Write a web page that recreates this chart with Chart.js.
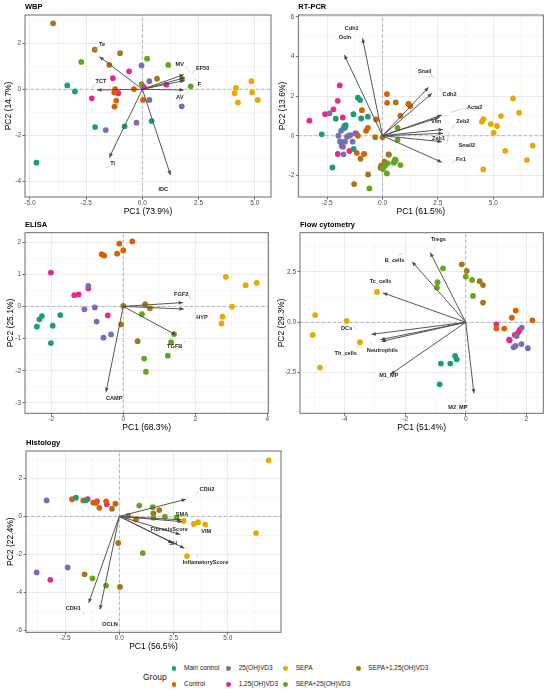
<!DOCTYPE html>
<html><head><meta charset="utf-8"><title>PCA biplots</title>
<script src="https://cdn.jsdelivr.net/npm/chart.js@4.4.1/dist/chart.umd.min.js"></script>
<style>
html,body{margin:0;padding:0;background:#fff;}
body{width:550px;height:693px;position:relative;overflow:hidden;font-family:"Liberation Sans",Arial,sans-serif;}
canvas{position:absolute;}
.lg{position:absolute;font-size:6.5px;color:#1a1a1a;white-space:nowrap;line-height:8px;}
.dot{position:absolute;width:4.8px;height:4.8px;border-radius:50%;}
</style></head><body>
<script>
// ---------------- DATA ----------------
const groups = ['Main control','Control','25(OH)VD3','1,25(OH)VD3','SEPA','SEPA+25(OH)VD3','SEPA+1,25(OH)VD3'];
const groupColors = ['#1B9E77','#D95F02','#7570B3','#E7298A','#E6AB02','#66A61E','#A6761D'];

// scores: [group index, PC1, PC2]
const wbpScores = [
 [0,-3.34,0.17],[0,-3.0,-0.09],[0,-4.71,-3.19],[0,-2.1,-1.64],[0,-0.79,-1.61],[0,0.41,-1.38],
 [1,-1.21,0.01],[1,-1.25,-0.14],[1,-1.16,-0.49],[1,-1.24,-0.75],[1,-0.37,0.01],[1,0.03,-0.46],
 [2,-0.04,1.04],[2,0.31,0.35],[2,0.31,-0.46],[2,1.75,-0.74],[2,-1.63,-1.77],[2,-0.26,-1.45],
 [3,-0.59,0.78],[3,-1.31,0.48],[3,-2.25,-0.39],[3,-1.07,-0.17],[3,0.07,0.09],[3,1.07,0.2],
 [4,4.85,0.35],[4,4.16,0.06],[4,4.1,-0.17],[4,4.88,-0.13],[4,5.13,-0.46],[4,4.25,-0.57],
 [5,-2.72,1.19],[5,0.21,1.33],[5,1.15,1.06],[5,1.76,0.45],[5,2.15,0.13],[5,-0.03,0.23],
 [6,-3.97,2.87],[6,-2.12,1.72],[6,-0.99,1.57],[6,-1.47,1.06],[6,0.65,0.46]
];
// loadings: [variable, tip PC1, tip PC2, label PC1, label PC2]
const wbpLoadings = [
 ['Te',-1.91,1.42,-1.79,1.93],['TCT',-2.01,-0.03,-1.84,0.33],['Ti',-1.47,-2.96,-1.32,-3.22],
 ['IDC',1.25,-3.72,0.93,-4.35],['MV',1.84,0.64,1.66,1.06],['EF50',1.88,0.5,2.68,0.91],
 ['F',1.88,0.38,2.54,0.22],['AV',1.84,-0.03,1.66,-0.36]
];
const wbpLeaders = [
 [-1.94,1.83,-2.13,1.71],[-2.1,0.23,-2.25,0.04],[-1.43,-3.32,-1.65,-3.43],[1.91,0.99,2.1,0.77],
 [2.35,0.84,2.21,0.67],[2.47,0.36,2.32,0.46],[1.88,-0.25,2.06,-0.06]
];
const wbpXTicks = [-5,-2.5,0,2.5,5];
const wbpYTicks = [-4,-2,0,2];

const pcrScores = [
 [4,5.89,1.88],[4,6.17,1.16],[4,5.35,0.99],[4,4.56,0.84],[4,4.49,0.71],[4,4.89,0.59],[4,5.17,0.49],[4,5.02,0.15],[4,6.78,-0.5],[4,5.54,-0.76],[4,6.52,-1.23],[4,4.55,-1.7],
 [1,0.2,2.1],[1,0.21,1.66],[1,1.17,1.6],[1,1.25,1.5],[1,0.81,1.01],[1,-0.29,0.82],[1,-0.93,1.29],[1,-0.66,0.4],[1,-0.74,0.25],[1,-1.11,0],[1,-1.16,-0.86],[1,-0.83,-0.92],
 [6,0.6,1.68],[6,-0.33,-0.07],[6,0,-0.08],[6,0.27,-0.94],[6,-0.99,-1.16],[6,0.09,-1.31],[6,-0.06,-1.51],[6,-0.09,-1.61],[6,-0.65,-1.95],[6,-1.28,-2.44],[6,0.29,-0.96],
 [5,0.68,0.4],[5,0.68,-0.22],[5,0.57,-1.19],[5,0.51,-1.36],[5,0.81,-1.48],[5,0.24,-1.39],[5,0.12,-1.51],[5,0.02,-1.68],[5,0.2,-1.9],[5,-0.59,-2.66],[5,0.54,-1.3],[5,0.6,-1.25],
 [0,-2.74,0.07],[0,-2.26,-1.6],[0,-2.11,0.86],[0,-1.72,0.49],[0,-1.66,0.54],[0,-1.69,0.42],[0,-1.31,1.09],[0,-1.11,1.92],[0,-1.01,1.8],[0,-0.96,0.87],[0,-0.66,0.96],[0,-1.3,-0.67],
 [3,-3.3,0.76],[3,-2.59,1.09],[3,-2.21,1.33],[3,-2.02,1.76],[3,-1.93,2.54],[3,-1.79,0.92],[3,-2.02,-0.92],[3,-1.79,-0.55],[3,-1.49,-0.77],[3,-1.23,0.12],[3,-1.51,0],[3,-1.9,-0.3],
 [2,-2.39,1.13],[2,-1.99,0],[2,-1.87,0.25],[2,-1.76,0.37],[2,-1.91,-0.3],[2,-1.84,-0.52],[2,-1.76,-0.94],[2,-1.46,0.03],[2,-1.19,0.12],[2,-1.69,-0.3],[2,-1.6,-0.05],[2,-1.35,-0.3]
];
const pcrLoadings = [
 ['Cdh1',-0.9,4.91,-1.39,5.41],['Ocln',-1.72,4.07,-1.69,4.94],['Snail',2.08,2.44,1.9,3.23],
 ['Cdh2',2.23,2.13,3.03,2.08],['Acta2',2.68,1.04,4.16,1.43],['Vim',2.56,0.92,2.42,0.74],
 ['Zeb2',2.73,0.32,3.63,0.74],['Zeb1',2.73,0.12,2.53,-0.13],['Snail2',2.68,-0.3,3.81,-0.47],
 ['Fn1',2.68,-1.34,3.54,-1.18]
];
const pcrLeaders = [
 [2.2,3.11,2.35,2.89],[2.65,2.22,2.56,2.39],[3.66,1.38,3.09,1.18],[2.76,0.96,2.89,1.09],
 [3.28,0.59,3.13,0.32],[3.01,0.2,2.91,-0.39],[3.33,-1.19,3.13,-1.39]
];
const pcrXTicks = [-2.5,0,2.5,5];
const pcrYTicks = [-2,0,2,4,6];

const elisaScores = [
 [1,0.25,2.02],[1,-0.11,1.95],[1,0,1.74],[1,-0.17,1.64],[1,-0.6,1.62],[1,-0.53,1.58],
 [3,-2.01,1.05],[3,-1.36,0.35],[3,-1.24,0.37],[3,-0.97,0.56],[3,-0.43,-0.28],
 [2,-0.97,0.64],[2,-1.08,-0.09],[2,-0.79,-0.03],[2,-0.74,-0.47],[2,-0.55,-0.97],[2,-0.34,-0.87],
 [0,-2.4,-0.63],[0,-2.33,-0.4],[0,-2.26,-0.3],[0,-1.96,-0.6],[0,-1.75,-0.27],[0,-2.01,-1.14],
 [6,0,0.02],[6,0.61,0.07],[6,0.74,-0.06],[6,-0.06,-0.56],[6,0.4,-1.08],
 [5,0.52,-0.24],[5,1.41,-0.86],[5,1.33,-1.11],[5,1.24,-1.53],[5,0.58,-1.62],[5,0.63,-2.03],
 [4,2.85,0.92],[4,3.4,0.66],[4,3.71,0.73],[4,3.02,-0.01],[4,2.76,-0.32],[4,2.73,-0.53]
];
const elisaLoadings = [
 ['FGF2',1.66,0.12,1.61,0.37],['HYP',1.68,-0.08,2.19,-0.34],
 ['TGFB',1.47,-0.89,1.43,-1.25],['CAMP',-0.48,-2.66,-0.25,-2.85]
];
const elisaLeaders = [[1.82,0.35,1.89,0.2],[1.96,-0.16,2.03,-0.27],[1.68,-1.14,1.71,-1.06]];
const elisaXTicks = [-2,0,2,4];
const elisaYTicks = [-3,-2,-1,0,1,2];

const flowScores = [
 [4,-4.97,0.36],[4,-5.05,-0.63],[4,-3.93,0.07],[4,-3.49,-0.99],[4,-2.93,1.51],[4,-4.81,-2.25],
 [5,-0.75,2.68],[5,-0.93,1.99],[5,-0.95,1.72],[5,0,2.27],[5,0.21,2.1],[5,0.24,1.31],
 [6,-0.13,2.88],[6,0.03,2.55],[6,0.46,2.04],[6,0.57,1.85],[6,0.57,0.98],
 [1,1.65,0.58],[1,1.52,0.23],[1,1.27,-0.31],[1,1.01,-0.31],[1,2.2,0.1],
 [3,1.01,-0.1],[3,1.43,-0.86],[3,1.62,-0.63],[3,1.73,-0.51],[3,1.78,-0.38],[3,1.45,-0.9],
 [2,1.85,-0.26],[2,1.68,-0.68],[2,1.84,-1.08],[2,1.58,-1.24],[2,2.05,-1.29],[2,1.65,-1.17],
 [0,-0.82,-2.05],[0,-0.51,-2.05],[0,-0.35,-1.67],[0,-0.3,-1.84],[0,-0.86,-3.08]
];
const flowLoadings = [
 ['Tregs',-1.17,3.46,-0.9,4.09],['B_cells',-1.77,3.01,-2.35,3.08],['Tc_cells',-2.73,1.46,-2.81,2.04],
 ['DCs',-3.11,-0.6,-3.93,-0.3],['Neutrophils',-2.78,-0.95,-2.75,-1.42],['Th_cells',-2.81,-0.86,-3.96,-1.57],
 ['M1_MP',-2.48,-2.58,-2.54,-2.65],['M2_MP',0.27,-3.53,-0.26,-4.22]
];
const flowLeaders = [
 [-2.21,3.31,-2.08,3.44],[-3.72,-0.13,-3.61,-0.38],[-3.64,-1.29,-3.47,-1.01],
 [-3.07,-1.13,-3.18,-0.96],[-2.71,-2.78,-2.84,-2.95]
];
const flowXTicks = [-4,-2,0,2];
const flowYTicks = [-2.5,0,2.5];

const histScores = [
 [4,6.88,2.95],[4,6.3,-0.88],[4,2.96,-0.24],[4,3.43,-0.4],[4,3.63,-0.31],[4,3.96,-0.43],[4,3.12,-2.09],
 [2,-3.35,0.84],[2,-3.81,-2.95],[2,-2.38,-2.69],
 [0,-2.0,0.98],[0,-1.54,0.84],
 [3,-1.46,0.91],[3,-1.03,0.79],[3,-0.58,0.64],[3,-3.18,-3.34],
 [1,-2.18,0.9],[1,-1.66,0.84],[1,-1.2,0.72],[1,-1.08,0.71],[1,-0.92,0.45],[1,-0.61,0.79],[1,-0.18,0.67],
 [6,-0.34,0.4],[6,1.84,0.33],[6,1.57,0.16],[6,0.77,-0.16],[6,-0.05,-1.4],[6,-1.6,-3.05],[6,0.03,-3.71],[6,0.4,0.03],
 [5,0.92,0.57],[5,1.54,0.48],[5,1.57,-0.07],[5,2.1,-0.02],[5,2.64,-0.05],[5,1.08,-1.93],[5,-1.24,-3.26],[5,-0.61,-3.64]
];
const histLoadings = [
 ['CDH2',3.07,0.9,4.04,1.43],['SMA',2.85,-0.18,2.89,0.12],['VIM',2.9,-0.28,4.0,-0.81],
 ['FibrosisScore',2.8,-0.95,2.3,-0.68],['SH',2.45,-1.4,2.48,-1.45],['InflamatoryScore',3.0,-1.68,3.97,-2.4],
 ['CDH1',-1.41,-4.55,-2.12,-4.84],['OCLN',-0.89,-4.9,-0.43,-5.7]
];
const histLeaders = [
 [3.65,1.35,3.53,1.12],[3.65,-0.51,3.53,-0.34],[3.65,-2.13,3.53,-1.98],[-1.69,-5.02,-1.61,-5.19]
];
const histXTicks = [-2.5,0,2.5,5];
const histYTicks = [-6,-4,-2,0,2];

// ---------------- PANELS (layout) ----------------
const FONT = '"Liberation Sans", Arial, sans-serif';
Chart.defaults.font.family = FONT;

const panels = [
 {title:'WBP', xTitle:'PC1 (73.9%)', yTitle:'PC2 (14.7%)', scores:wbpScores, loadings:wbpLoadings, leaders:wbpLeaders,
  xTicks:wbpXTicks, yTicks:wbpYTicks, xDec:1, yDec:0, xRange:[-5.22,5.72], yRange:[-4.68,3.23],
  box:{left:0,top:0,w:275}, plot:{l:25,t:15,r:273,b:197}, yPad:3.2},
 {title:'RT-PCR', xTitle:'PC1 (61.5%)', yTitle:'PC2 (13.6%)', scores:pcrScores, loadings:pcrLoadings, leaders:pcrLeaders,
  xTicks:pcrXTicks, yTicks:pcrYTicks, xDec:1, yDec:0, xRange:[-3.8,7.26], yRange:[-3.09,6.09],
  box:{left:275,top:0,w:275}, plot:{l:298.3,t:15,r:543.3,b:197}, yPad:2.9},
 {title:'ELISA', xTitle:'PC1 (68.3%)', yTitle:'PC2 (25.1%)', scores:elisaScores, loadings:elisaLoadings, leaders:elisaLeaders,
  xTicks:elisaXTicks, yTicks:elisaYTicks, xDec:0, yDec:0, xRange:[-2.73,4.03], yRange:[-3.32,2.29],
  box:{left:0,top:213,w:275}, plot:{l:25,t:232.7,r:268.3,b:413.3}, yPad:5.6},
 {title:'Flow cytometry', xTitle:'PC1 (51.4%)', yTitle:'PC2 (29.3%)', scores:flowScores, loadings:flowLoadings, leaders:flowLeaders,
  xTicks:flowXTicks, yTicks:flowYTicks, xDec:0, yDec:1, xRange:[-5.47,2.56], yRange:[-4.52,4.45],
  box:{left:275,top:213,w:275}, plot:{l:300,t:232.7,r:543.3,b:413.3}, yPad:1.9},
 {title:'Histology', xTitle:'PC1 (56.5%)', yTitle:'PC2 (22.4%)', scores:histScores, loadings:histLoadings, leaders:histLeaders,
  xTicks:histXTicks, yTicks:histYTicks, xDec:1, yDec:0, xRange:[-4.3,7.45], yRange:[-6.1,3.44],
  box:{left:0,top:433,w:285}, plot:{l:26,t:451,r:281,b:632.3}, yPad:5.2}
];

function buildTicks(major, lo, hi){
  const d = major[1]-major[0];
  const start = major[0] - d*Math.ceil((major[0]-lo)/d);
  const out = [];
  for (let k=0; ; k++){
    const v = +(start + k*d/2).toFixed(6);
    if (v > hi + 1e-9) break;
    if (v >= lo - 1e-9) out.push(v);
  }
  return out;
}

function axisOpts(major, range, dec, titleText, isX, fit, titlePad){
  const all = buildTicks(major, range[0], range[1]);
  const d = major[1]-major[0];
  const isMaj = v => Math.abs((v-major[0])/d - Math.round((v-major[0])/d)) < 1e-6;
  const maj = c => c.tick && isMaj(c.tick.value);
  return {
    type:'linear', min:range[0], max:range[1],
    afterBuildTicks: s => { s.ticks = all.map(v => ({value:v})); },
    afterFit: s => { if (isX) s.height = fit; else s.width = fit; },
    ticks:{autoSkip:false, maxRotation:0, minRotation:0, padding: isX?0.5:1.5, color:'#4d4d4d',
      font:{size:6.5, lineHeight:1}, callback: v => isMaj(v) ? (+v).toFixed(dec) : ''},
    grid:{color: c => maj(c) ? '#e2e2e2' : '#f0f0f0', lineWidth: c => maj(c) ? 0.7 : 0.45,
      tickLength:2.5, tickColor: c => maj(c) ? '#333333' : 'rgba(0,0,0,0)', tickWidth:0.7},
    border:{display:false},
    title:{display:true, text:titleText, color:'#000', font:{size:8.5, lineHeight:1.2},
      padding: isX ? {top:0,bottom:0} : {top:titlePad,bottom:0}}
  };
}

function makePlugin(p){
  return {
    id:'biplot',
    afterDatasetsDraw(chart){
      const {ctx, scales:{x,y}} = chart;
      ctx.save();
      chart.data.datasets.forEach((ds,i)=>{
        if (!ds.isArrow) return;
        const m = chart.getDatasetMeta(i).data;
        const a = m[0], b = m[1];
        const ang = Math.atan2(b.y-a.y, b.x-a.x), L = 4.3, W = 1.9;
        const bx = b.x - L*Math.cos(ang), by = b.y - L*Math.sin(ang);
        ctx.beginPath();
        ctx.moveTo(b.x, b.y);
        ctx.lineTo(bx + W*Math.sin(ang), by - W*Math.cos(ang));
        ctx.lineTo(bx - W*Math.sin(ang), by + W*Math.cos(ang));
        ctx.closePath();
        ctx.fillStyle = ds.borderColor;
        ctx.fill();
      });
      ctx.font = 'bold 5.6px ' + FONT;
      ctx.fillStyle = '#262626';
      ctx.textAlign = 'center';
      ctx.textBaseline = 'middle';
      p.loadings.forEach(l => ctx.fillText(l[0], x.getPixelForValue(l[3]), y.getPixelForValue(l[4])));
      ctx.restore();
    },
    afterDraw(chart){
      const {ctx, chartArea:a} = chart;
      ctx.save();
      ctx.strokeStyle = '#5e5e5e';
      ctx.lineWidth = 0.9;
      ctx.strokeRect(a.left, a.top, a.right-a.left, a.bottom-a.top);
      ctx.font = 'bold 7.5px ' + FONT;
      ctx.fillStyle = '#000';
      ctx.textAlign = 'left';
      ctx.textBaseline = 'middle';
      ctx.fillText(p.title, a.left, a.top - 8);
      ctx.restore();
    }
  };
}

function datasetsFor(p){
  const ds = [];
  const zero = {showLine:true, borderColor:'#a3a3a3', borderWidth:0.8, borderDash:[3,2.5], pointRadius:0, order:9};
  ds.push(Object.assign({data:[{x:p.xRange[0],y:0},{x:p.xRange[1],y:0}]}, zero));
  ds.push(Object.assign({data:[{x:0,y:p.yRange[0]},{x:0,y:p.yRange[1]}]}, zero));
  groups.forEach((g,gi)=>{
    ds.push({label:g, data:p.scores.filter(s=>s[0]===gi).map(s=>({x:s[1],y:s[2]})),
      backgroundColor:groupColors[gi], borderWidth:0, pointRadius:2.9, order:5});
  });
  p.leaders.forEach(s => ds.push({data:[{x:s[0],y:s[1]},{x:s[2],y:s[3]}], showLine:true,
    borderColor:'#b5b5b5', borderWidth:0.6, pointRadius:0, order:3}));
  p.loadings.forEach(l => ds.push({label:l[0], data:[{x:0,y:0},{x:l[1],y:l[2]}], showLine:true,
    borderColor:'#4d4d4d', borderWidth:0.95, pointRadius:0, order:1, isArrow:true}));
  return ds;
}

panels.forEach(p=>{
  const top = p.box.top, W = p.box.w;
  const H = Math.round(p.plot.b + 19.6 - top);
  const xH = H - (p.plot.b - top);
  const yW = p.plot.l - p.box.left;
  const canvas = document.createElement('canvas');
  canvas.width = W; canvas.height = H;
  canvas.style.left = p.box.left + 'px';
  canvas.style.top = top + 'px';
  canvas.style.width = W + 'px';
  canvas.style.height = H + 'px';
  document.body.appendChild(canvas);
  new Chart(canvas, {
    type:'scatter',
    data:{datasets:datasetsFor(p)},
    options:{
      responsive:false, animation:false, events:[],
      layout:{padding:{top:p.plot.t - top, right:p.box.left + W - p.plot.r, left:0, bottom:0}},
      plugins:{legend:{display:false}, tooltip:{enabled:false}},
      scales:{
        x: axisOpts(p.xTicks, p.xRange, p.xDec, p.xTitle, true, xH, 0),
        y: axisOpts(p.yTicks, p.yRange, p.yDec, p.yTitle, false, yW, p.yPad)
      }
    },
    plugins:[makePlugin(p)]
  });
});

// ---------------- LEGEND ----------------
const legendCols = [174, 228.7, 285.7, 358.3];
const legendRows = [668.3, 684.3];
const gt = document.createElement('div');
gt.className = 'lg';
gt.style.fontSize = '8.5px';
gt.style.lineHeight = '10px';
gt.style.left = '143px';
gt.style.top = (676.7 - 5) + 'px';
gt.textContent = 'Group';
document.body.appendChild(gt);
groups.forEach((g,i)=>{
  const cx = legendCols[Math.floor(i/2)], cy = legendRows[i%2];
  const d = document.createElement('div');
  d.className = 'dot';
  d.style.background = groupColors[i];
  d.style.left = (cx - 2.4) + 'px';
  d.style.top = (cy - 2.4) + 'px';
  document.body.appendChild(d);
  const t = document.createElement('div');
  t.className = 'lg';
  t.style.left = (cx + 10) + 'px';
  t.style.top = (cy - 4) + 'px';
  t.textContent = g;
  document.body.appendChild(t);
});
</script>
</body></html>
